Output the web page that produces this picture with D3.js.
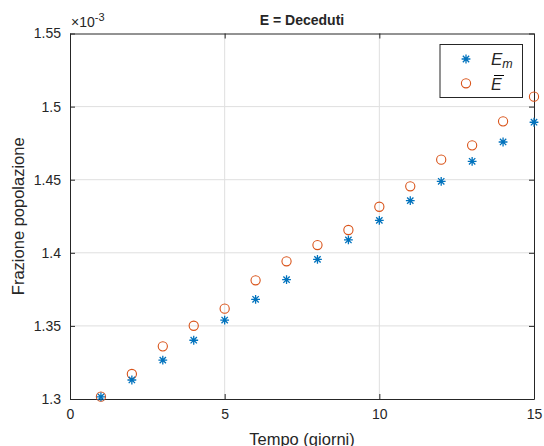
<!DOCTYPE html>
<html>
<head>
<meta charset="utf-8">
<script src="https://cdn.jsdelivr.net/npm/d3@7"></script>
<style>
  html, body { margin: 0; padding: 0; background: #fff; }
  svg { display: block; }
  text { font-family: "Liberation Sans", Arial, Helvetica, sans-serif; fill: #262626; }
</style>
</head>
<body>
<svg id="chart" width="544" height="446"></svg>
<script>
// Time in days
const days = [1, 2, 3, 4, 5, 6, 7, 8, 9, 10, 11, 12, 13, 14, 15];
// E_m (model), fraction of population, units of 1e-3
const eModel = [1.3014, 1.3130, 1.3266, 1.3402, 1.3540, 1.3682, 1.3816, 1.3955, 1.4088, 1.4222, 1.4357, 1.4489, 1.4626, 1.4758, 1.4893];
// E bar (mean), fraction of population, units of 1e-3
const eMean = [1.3016, 1.3171, 1.3360, 1.3501, 1.3618, 1.3812, 1.3942, 1.4053, 1.4156, 1.4315, 1.4455, 1.4637, 1.4735, 1.4899, 1.5068];
const xTicks = [0, 5, 10, 15];
const yTicks = [1.3, 1.35, 1.4, 1.45, 1.5, 1.55];

const svg = d3.select("#chart");
const L = 70, R = 534, T = 33.5, B = 399;
const x = d3.scaleLinear().domain([0, 15]).range([L, R]);
const y = d3.scaleLinear().domain([1.3, 1.55]).range([B, T]);

const blue = "#0072BD", orange = "#D95319", axisCol = "#262626";

// grid
const grid = svg.append("g");
grid.selectAll(".gx").data(xTicks.slice(1, -1)).join("line")
  .attr("x1", d => x(d)).attr("x2", d => x(d)).attr("y1", T).attr("y2", B)
  .attr("stroke", "#dfdfdf").attr("stroke-width", 1);
grid.selectAll(".gy").data(yTicks.slice(1, -1)).join("line")
  .attr("y1", d => y(d)).attr("y2", d => y(d)).attr("x1", L).attr("x2", R)
  .attr("stroke", "#dfdfdf").attr("stroke-width", 1);

// axes (ticks inward)
const fmtY = d => d3.format(".2~f")(d);
const axB = svg.append("g").attr("transform", `translate(0,${B})`)
  .call(d3.axisBottom(x).tickValues(xTicks).tickSizeInner(-5).tickSizeOuter(0).tickPadding(10));
const axL = svg.append("g").attr("transform", `translate(${L},0)`)
  .call(d3.axisLeft(y).tickValues(yTicks).tickFormat(fmtY).tickSizeInner(-5).tickSizeOuter(0).tickPadding(9));
const axT = svg.append("g").attr("transform", `translate(0,${T})`)
  .call(d3.axisTop(x).tickValues(xTicks).tickSizeInner(-5).tickSizeOuter(0).tickFormat(""));
const axR = svg.append("g").attr("transform", `translate(${R},0)`)
  .call(d3.axisRight(y).tickValues(yTicks).tickSizeInner(-5).tickSizeOuter(0).tickFormat(""));
[axB, axL, axT, axR].forEach(a => {
  a.select(".domain").attr("stroke", axisCol).attr("stroke-width", 1);
  a.selectAll(".tick line").attr("stroke", axisCol);
  a.selectAll(".tick text").attr("font-size", 14).attr("fill", axisCol)
    .attr("font-family", "Liberation Sans, Arial, sans-serif");
});

// exponent label
const ex = svg.append("text").attr("x", L + 1).attr("y", 27).attr("font-size", 14);
ex.append("tspan").text("\u00d710");
ex.append("tspan").attr("dy", -6).attr("font-size", 11).text("-3");

// title
svg.append("text").attr("x", (L + R) / 2).attr("y", 25).attr("text-anchor", "middle")
  .attr("font-size", 14).attr("font-weight", "bold").attr("fill", "#000").text("E = Deceduti");

// axis labels
svg.append("text").attr("x", (L + R) / 2).attr("y", 445).attr("text-anchor", "middle")
  .attr("font-size", 16.5).text("Tempo (giorni)");
svg.append("text").attr("transform", `translate(24,${(T + B) / 2}) rotate(-90)`)
  .attr("text-anchor", "middle").attr("font-size", 16.5).text("Frazione popolazione");

// markers
function star(g, cx, cy, s) {
  const p = d3.path();
  p.moveTo(cx - s, cy); p.lineTo(cx + s, cy);
  p.moveTo(cx, cy - s); p.lineTo(cx, cy + s);
  const k = s * 0.72;
  p.moveTo(cx - k, cy - k); p.lineTo(cx + k, cy + k);
  p.moveTo(cx - k, cy + k); p.lineTo(cx + k, cy - k);
  g.append("path").attr("d", p.toString()).attr("stroke", blue).attr("stroke-width", 1.3).attr("fill", "none");
}

const pts = svg.append("g");

pts.selectAll("circle.mean").data(days).join("circle")
  .attr("class", "mean")
  .attr("cx", d => x(d)).attr("cy", (d, i) => y(eMean[i])).attr("r", 4.6)
  .attr("fill", "none").attr("stroke", orange).attr("stroke-width", 1.1);
days.forEach((d, i) => star(pts, x(d), y(eModel[i]), 4.4));

// legend
const lg = svg.append("g");
lg.append("rect").attr("x", 440).attr("y", 44.5).attr("width", 82.5).attr("height", 53)
  .attr("fill", "#fff").attr("stroke", axisCol).attr("stroke-width", 1);
star(lg, 466, 59, 4.4);
lg.append("circle").attr("cx", 466).attr("cy", 83.3).attr("r", 4.6)
  .attr("fill", "none").attr("stroke", orange).attr("stroke-width", 1.1);
const t1 = lg.append("text").attr("x", 491).attr("y", 65).attr("font-family", "DejaVu Serif, Liberation Serif, serif")
  .attr("font-style", "italic").attr("font-size", 17).attr("fill", "#000");
t1.append("tspan").text("E");
t1.append("tspan").attr("dy", 3).attr("font-size", 12.5).text("m");
lg.append("text").attr("x", 491).attr("y", 90).attr("font-family", "DejaVu Serif, Liberation Serif, serif")
  .attr("font-style", "italic").attr("font-size", 16).attr("fill", "#000").text("E");
lg.append("line").attr("x1", 494).attr("x2", 504).attr("y1", 75.5).attr("y2", 75.5)
  .attr("stroke", "#000").attr("stroke-width", 1);
</script>
</body>
</html>
